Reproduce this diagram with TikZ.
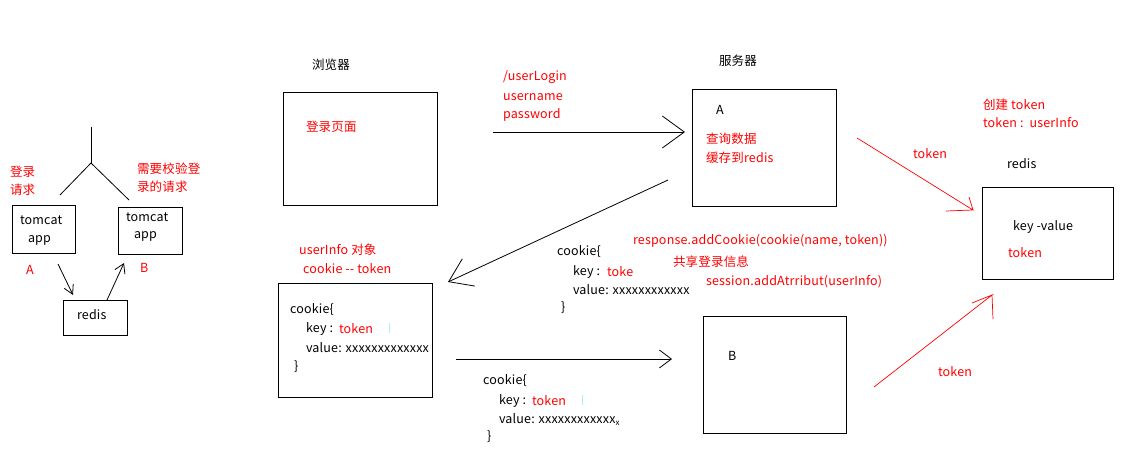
\documentclass[tikz,border=0pt]{standalone}
\usepackage{fontspec}
\setmainfont{Noto Sans CJK SC}[Ligatures=NoCommon,LetterSpace=1.5]
\usetikzlibrary{arrows.meta}
\definecolor{pen}{RGB}{255,0,0}
\definecolor{cursor}{RGB}{175,235,250}
\begin{document}
\begin{tikzpicture}[x=1pt,y=-1pt,
  every node/.style={inner sep=0pt,outer sep=0pt,font=\fontsize{12.5}{15}\selectfont},
  box/.style={draw,line width=0.9pt},
  txt/.style={anchor=west,text=black},
  rtxt/.style={anchor=west,text=pen},
  conn/.style={line width=0.8pt},
  rconn/.style={draw=pen,line width=0.7pt},
  cur/.style={draw=cursor,line width=0.8pt}]
\useasboundingbox (0,0) rectangle (1129,468);
% ---------- left: two tomcats sharing redis ----------
\node[box,minimum width=63,minimum height=48] (tomA) at (43.5,229) {};
\node[box,minimum width=64,minimum height=47] (tomB) at (150,230.5) {};
\node[box,minimum width=64,minimum height=35] (redisL) at (95,317.5) {};
\node[txt] (tA1) at (20,220) {tomcat};
\node[txt] (tA2) at (28,240) {app};
\node[txt] (tB1) at (126,217) {tomcat};
\node[txt] (tB2) at (134,236) {app};
\node[txt] (rL) at (77,315) {redis};
\node[rtxt] (lA) at (26,270) {A};
\node[rtxt] (lB) at (140,268) {B};
\node[rtxt] (req1) at (10,172) {登录};
\node[rtxt] (req2) at (10,190) {请求};
\node[rtxt] (chk1) at (137,169) {需要校验登};
\node[rtxt] (chk2) at (137,187) {录的请求};
\coordinate (treetop) at (91,127);
\coordinate (fork) at (91,163);
\coordinate (forkL) at (60,195);
\coordinate (forkR) at (129,200);
\draw[conn] (treetop) -- (fork);
\draw[conn] (fork) -- (forkL);
\draw[conn] (fork) -- (forkR);
\coordinate (aLs) at (58,264);
\coordinate (aLe) at (73,295);
\coordinate (aRs) at (107,300);
\coordinate (aRe) at (124,263);
\draw[conn,-{Straight Barb[length=9pt,width=10pt]}] (aLs) -- (aLe);
\draw[conn,-{Straight Barb[length=9pt,width=11pt]}] (aRs) -- (aRe);
% ---------- browser ----------
\node[txt] (brT) at (312,65) {浏览器};
\node[box,minimum width=154,minimum height=113] (browser) at (360,148.5) {};
\node[rtxt] (login) at (306,127) {登录页面};
\node[rtxt] (u1) at (503,77) {/userLogin};
\node[rtxt] (u2) at (503,97) {username};
\node[rtxt] (u3) at (503,115) {password};
\coordinate (a1s) at (493,132);
\coordinate (a1e) at (685,132);
\draw[conn,-{Straight Barb[length=22pt,width=32pt]}] (a1s) -- (a1e);
% ---------- server A ----------
\node[txt] (svT) at (719,61) {服务器};
\node[box,minimum width=144,minimum height=117] (serverA) at (764,147.5) {};
\node[txt] (sA) at (716,110) {A};
\node[rtxt] (q1) at (706,139) {查询数据};
\node[rtxt] (q2) at (706,158) {缓存到redis};
\coordinate (a2s) at (668,180);
\coordinate (a2e) at (448,282);
\draw[conn,-{Straight Barb[length=22pt,width=30pt]}] (a2s) -- (a2e);
% ---------- middle cookie text ----------
\node[rtxt] (resp) at (633,241) {response.addCookie(cookie(name, token))};
\node[rtxt] (share) at (673,262) {共享登录信息};
\node[rtxt] (sess) at (706,282) {session.addAtrribut(userInfo)};
\node[txt] (m1) at (557,252) {cookie\{};
\node[txt] (m2) at (573,272) {key :};
\node[rtxt] (m2b) at (607,272) {toke};
\node[txt] (m3) at (573,290) {value: xxxxxxxxxxxx};
\node[txt] (m4) at (561,308) {\}};
% ---------- cookie box (browser side) ----------
\node[rtxt] (ui1) at (299,250) {userInfo 对象};
\node[rtxt] (ui2) at (303,269) {cookie -{}- token};
\node[box,minimum width=154,minimum height=114] (cookie) at (355,340) {};
\node[txt] (c1) at (290,310) {cookie\{};
\node[txt] (c2) at (306,329) {key :};
\node[rtxt] (c2b) at (339,329) {token};
\node[txt] (c3) at (306,348) {value: xxxxxxxxxxxxx};
\node[txt] (c4) at (294,367) {\}};
\coordinate (cu1a) at (389,323);
\coordinate (cu1b) at (389,333);
\draw[cur] (cu1a) -- (cu1b);
\coordinate (a3s) at (456,359);
\coordinate (a3e) at (672,359);
\draw[conn,-{Straight Barb[length=12pt,width=18pt]}] (a3s) -- (a3e);
% ---------- bottom cookie text ----------
\node[txt] (b1) at (483,381) {cookie\{};
\node[txt] (b2) at (499,401) {key :};
\node[rtxt] (b2b) at (532,401) {token};
\node[txt] (b3) at (499,420) {value: xxxxxxxxxxxx\raisebox{-2pt}{\fontsize{8}{8}\selectfont x}};
\node[txt] (b4) at (487,437) {\}};
\coordinate (cu2a) at (582,395);
\coordinate (cu2b) at (582,405);
\draw[cur] (cu2a) -- (cu2b);
% ---------- server B ----------
\node[box,minimum width=143,minimum height=117] (serverB) at (774.5,374.5) {};
\node[txt] (sB) at (728,356) {B};
% ---------- redis ----------
\node[rtxt] (mk1) at (983,105) {创建 token};
\node[rtxt] (mk2) at (983,123) {token :\ \ userInfo};
\node[txt] (rdT) at (1007,164) {redis};
\node[box,minimum width=131,minimum height=92] (redisR) at (1047.5,233) {};
\node[txt] (kv) at (1013,227) {key -value};
\node[rtxt] (kvt) at (1008,253) {token};
\node[rtxt] (tk1) at (913,154) {token};
\node[rtxt] (tk2) at (938,372) {token};
\coordinate (r1s) at (857,138);
\coordinate (r1e) at (973,210);
\draw[rconn] (r1s) -- (r1e) -- ++(-27,1) (r1e) -- ++(-4,-13);
\coordinate (r2s) at (874,387);
\coordinate (r2e) at (992,295);
\draw[rconn] (r2s) -- (r2e) -- ++(-20,8) (r2e) -- ++(1,24);
\end{tikzpicture}
\end{document}
